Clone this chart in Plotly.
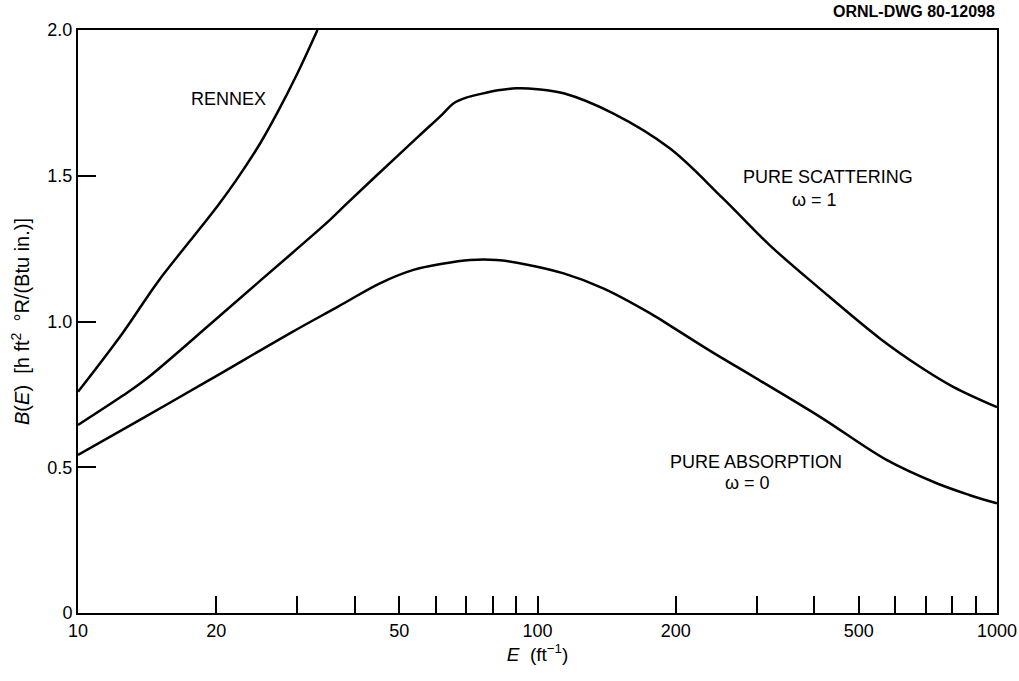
import numpy as np
import plotly.graph_objects as go

# ---- data ----
rennex_E = [10, 12.5, 14.9, 17.5, 20.2, 22.1, 25, 27.1, 30, 33.2]
rennex_B = [0.759, 0.96, 1.135, 1.275, 1.40, 1.485, 1.615, 1.714, 1.85, 2.0]

scat_E = [10, 12.5, 14, 19.5, 25, 30, 35.3, 38.5, 45, 55, 62, 65.6, 70, 75, 82, 90, 100,
          114, 146, 194, 253, 320, 412, 556, 680, 803, 1000]
scat_B = [0.645, 0.745, 0.80, 0.994, 1.142, 1.25, 1.348, 1.405, 1.506, 1.634, 1.71, 1.748,
          1.768, 1.78, 1.793, 1.80, 1.797, 1.783, 1.714, 1.594, 1.423, 1.262, 1.112,
          0.942, 0.845, 0.776, 0.706]

abs_E = [10, 14, 19.5, 29.1, 36.8, 45.4, 53.7, 62, 71.3, 81.5, 95, 114, 139, 176, 197,
         240, 295, 412, 575, 739, 870, 1000]
abs_B = [0.542, 0.673, 0.803, 0.962, 1.051, 1.131, 1.177, 1.198, 1.211, 1.211, 1.195,
         1.165, 1.114, 1.028, 0.98, 0.895, 0.811, 0.673, 0.525, 0.445, 0.405, 0.376]

x_label_vals = [10, 20, 50, 100, 200, 500, 1000]
x_label_text = ["10", "20", "50", "100", "200", "500", "1000"]
x_minor_vals = [30, 40, 60, 70, 80, 90, 300, 400, 600, 700, 800, 900]
y_tickvals = [0, 0.5, 1.0, 1.5, 2.0]
y_ticktext = ["0", "0.5", "1.0", "1.5", "2.0"]

labels = [
    ("RENNEX", 21.3, 1.763),
    ("PURE SCATTERING", 428, 1.496),
    ("ω = 1", 400, 1.417),
    ("PURE ABSORPTION", 299, 0.519),
    ("ω = 0", 286, 0.447),
]

FONT = "Liberation Sans, Arial, Helvetica, sans-serif"

fig = go.Figure()
for xs, ys in [(rennex_E, rennex_B), (scat_E, scat_B), (abs_E, abs_B)]:
    fig.add_trace(go.Scatter(x=xs, y=ys, mode="lines",
                             line=dict(color="black", width=2.5, shape="spline", smoothing=1.0),
                             showlegend=False, hoverinfo="skip"))

for txt, ex, by in labels:
    fig.add_annotation(x=np.log10(ex), y=by, xref="x", yref="y", text=txt,
                       showarrow=False, font=dict(family=FONT, size=18, color="black"),
                       xanchor="center", yanchor="middle")

fig.add_annotation(x=1.0, y=1.031, xref="paper", yref="paper", text="<b>ORNL-DWG 80-12098</b>",
                   showarrow=False, font=dict(family=FONT, size=16, color="black"),
                   xanchor="right", yanchor="middle")

fig.update_xaxes(type="log", range=[1, 3], tickmode="array",
                 tickvals=x_label_vals, ticktext=x_label_text,
                 ticks="inside", ticklen=17, tickwidth=2, tickcolor="black",
                 minor=dict(tickmode="array", tickvals=x_minor_vals, ticks="inside",
                            ticklen=17, tickwidth=2, tickcolor="black", showgrid=False),
                 showline=True, linecolor="black", linewidth=2, mirror=True,
                 showgrid=False, zeroline=False, automargin=False,
                 tickfont=dict(family=FONT, size=18, color="black"),
                 title=dict(text="<i>E</i>  (ft<sup>−1</sup>)",
                            font=dict(family=FONT, size=19, color="black"), standoff=8))
fig.update_yaxes(range=[0, 2.0], tickvals=y_tickvals, ticktext=y_ticktext,
                 ticks="inside", ticklen=18, tickwidth=2, tickcolor="black",
                 showline=True, linecolor="black", linewidth=2, mirror=True,
                 showgrid=False, zeroline=False, automargin=False,
                 tickfont=dict(family=FONT, size=18, color="black"),
                 title=dict(text="<i>B</i>(<i>E</i>)  [h ft<sup>2</sup>  °R/(Btu in.)]",
                            font=dict(family=FONT, size=20, color="black"), standoff=12))

fig.update_layout(width=1019, height=681, margin=dict(l=78, r=22, t=30, b=68),
                  paper_bgcolor="white", plot_bgcolor="white",
                  font=dict(family=FONT, color="black"))

fig.write_html("out.html")
